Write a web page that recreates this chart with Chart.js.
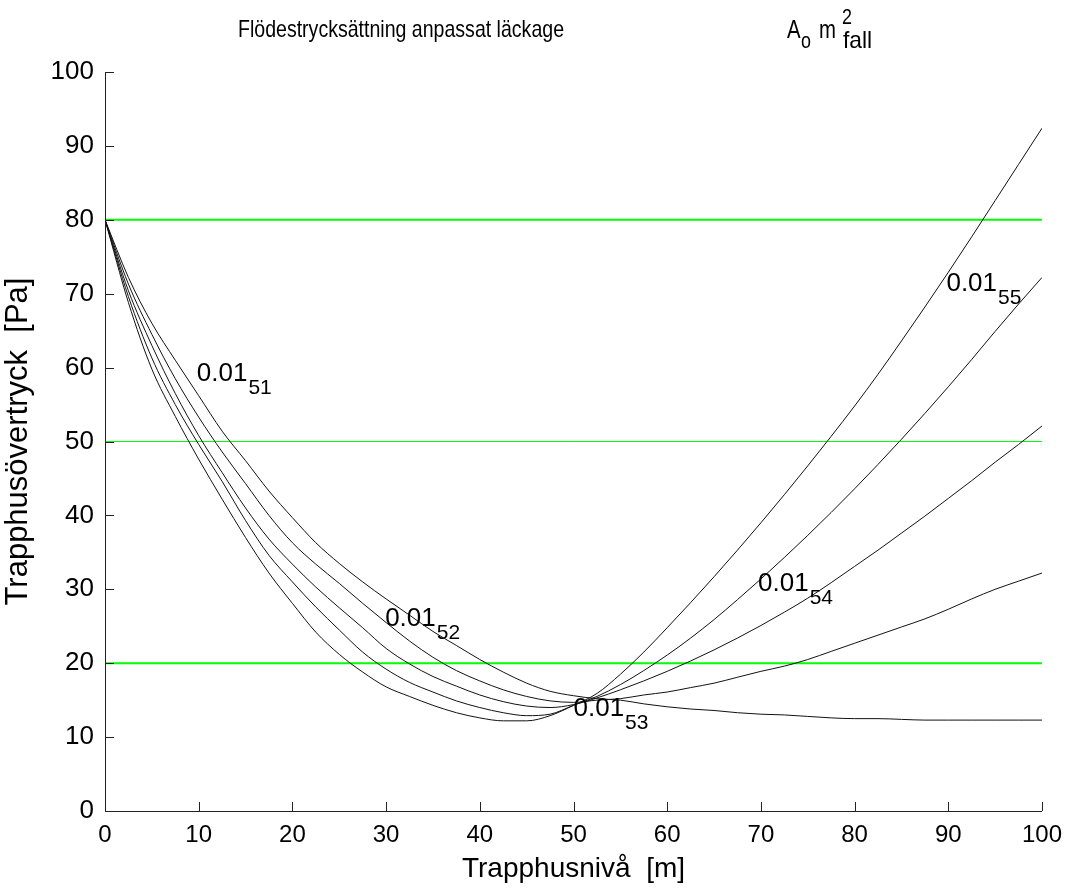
<!DOCTYPE html>
<html>
<head>
<meta charset="utf-8">
<script src="https://cdn.jsdelivr.net/npm/chart.js@4.4.1/dist/chart.umd.min.js"></script>
<style>
  html, body { margin: 0; padding: 0; background: #fff; }
</style>
</head>
<body>
<canvas id="chart" width="1069" height="890"></canvas>
<script>
// trapphusnivå [m]
const levels = [0, 2.5, 5, 7.5, 10, 12.5, 15, 17.5, 20, 22.5, 25, 27.5, 30, 32.5, 35, 37.5, 40, 42.5, 45, 47.5,
  50, 52.5, 55, 57.5, 60, 62.5, 65, 67.5, 70, 72.5, 75, 77.5, 80, 82.5, 85, 87.5, 90, 92.5, 95, 97.5, 100];

// övertryck [Pa] per fall
const fall51 = [80, 72.2, 66.0, 61.0, 56.2, 51.4, 47.4, 43.3, 39.7, 36.3, 33.5, 31.0, 28.7, 26.5, 24.3, 22.4, 20.5, 18.8, 17.3, 16.2,
  15.6, 15.2, 15.0, 14.5, 14.1, 13.8, 13.6, 13.3, 13.1, 13.0, 12.8, 12.6, 12.5, 12.5, 12.4, 12.3, 12.3, 12.3, 12.3, 12.3, 12.3];
const fall52 = [80, 71.3, 64.5, 58.5, 53.3, 48.6, 44.3, 40.0, 36.3, 33.4, 30.8, 28.1, 25.5, 23.0, 20.8, 19.0, 17.6, 16.4, 15.5, 14.9,
  14.7, 15.0, 15.2, 15.7, 16.1, 16.7, 17.3, 18.1, 18.9, 19.6, 20.5, 21.6, 22.7, 23.8, 24.9, 26.0, 27.3, 28.7, 30.0, 31.1, 32.2];
const fall53 = [80, 70.4, 63.0, 56.5, 50.8, 45.8, 41.0, 36.8, 33.4, 30.3, 27.5, 24.8, 22.0, 19.9, 18.2, 16.9, 15.7, 14.8, 14.2, 14.0,
  14.4, 15.3, 16.4, 17.6, 18.9, 20.3, 21.8, 23.4, 25.1, 26.9, 28.8, 30.9, 33.1, 35.3, 37.6, 39.9, 42.3, 44.7, 47.2, 49.6, 52.1];
const fall54 = [80, 69.6, 61.3, 55.0, 49.6, 44.6, 39.3, 34.6, 31.0, 27.6, 24.5, 21.5, 19.2, 17.4, 16.1, 14.9, 14.0, 13.3, 12.9, 13.1,
  14.3, 15.5, 17.1, 19.0, 21.1, 23.4, 25.9, 28.6, 31.4, 34.3, 37.3, 40.4, 43.6, 46.9, 50.3, 53.8, 57.4, 61.1, 64.9, 68.6, 72.2];
const fall55 = [80, 68.8, 59.8, 53.4, 47.6, 42.2, 37.0, 32.2, 28.1, 24.2, 21.2, 18.8, 16.8, 15.5, 14.3, 13.3, 12.6, 12.2, 12.2, 12.9,
  14.3, 15.9, 18.5, 21.5, 24.8, 28.2, 31.7, 35.3, 39.0, 42.8, 46.7, 50.7, 54.8, 59.1, 63.6, 68.2, 72.9, 77.7, 82.6, 87.5, 92.4];

const fallNames = ['51', '52', '53', '54', '55'];
const fallSeries = [fall51, fall52, fall53, fall54, fall55];

// gränsnivåer [Pa]
const limitLevels = [80, 50, 20];

// kurvetiketter: vänsterkant och baslinje i datakoordinater
const labelX = [9.8, 29.9, 50.0, 69.7, 89.8];
const labelY = [58.2, 25.0, 12.9, 29.8, 70.4];

const tickValues = [0, 10, 20, 30, 40, 50, 60, 70, 80, 90, 100];

const FONT = '"Liberation Sans", Arial, Helvetica, sans-serif';
const PLOT = { left: 105, right: 1042, top: 72, bottom: 811 };

const datasets = fallSeries.map((s, i) => ({
  label: '0.01 ' + fallNames[i],
  data: levels.map((x, j) => ({ x: x, y: s[j] })),
  borderColor: '#111',
  borderWidth: 1,
  pointRadius: 0,
  cubicInterpolationMode: 'monotone',
  fill: false
}));

limitLevels.forEach(v => {
  datasets.push({
    label: 'gräns ' + v,
    data: [{ x: 0, y: v }, { x: 100, y: v }],
    borderColor: '#00ff00',
    borderWidth: v === 50 ? 1 : 2,
    pointRadius: 0,
    fill: false
  });
});

const axesPlugin = {
  id: 'matlabAxes',
  afterDatasetsDraw(chart) {
    const { ctx, chartArea: a, scales: { x, y } } = chart;
    ctx.save();
    ctx.strokeStyle = '#222';
    ctx.lineWidth = 1;
    ctx.beginPath();
    ctx.moveTo(a.left + 0.5, a.top);
    ctx.lineTo(a.left + 0.5, a.bottom + 0.5);
    ctx.lineTo(a.right, a.bottom + 0.5);
    ctx.stroke();
    ctx.beginPath();
    tickValues.forEach(v => {
      const py = Math.round(y.getPixelForValue(v)) + 0.5;
      ctx.moveTo(a.left, py);
      ctx.lineTo(a.left + 9, py);
      const px = Math.round(x.getPixelForValue(v)) + 0.5;
      ctx.moveTo(px, a.bottom);
      ctx.lineTo(px, a.bottom - 9);
    });
    ctx.stroke();
    ctx.restore();
  }
};

const curveLabels = {
  id: 'curveLabels',
  afterDatasetsDraw(chart) {
    const { ctx, scales: { x, y } } = chart;
    ctx.save();
    ctx.fillStyle = '#000';
    ctx.textBaseline = 'alphabetic';
    ctx.textAlign = 'left';
    labelX.forEach((lx, i) => {
      const px = x.getPixelForValue(lx);
      const py = y.getPixelForValue(labelY[i]);
      ctx.font = '26px ' + FONT;
      ctx.fillText('0.01', px, py);
      const w = ctx.measureText('0.01').width;
      ctx.font = '21px ' + FONT;
      ctx.fillText(fallNames[i], px + w + 1, py + 13);
    });
    ctx.restore();
  }
};

// the title in the original is set in a condensed face, so squeeze it horizontally
function squeezed(ctx, text, x, y, size, sx) {
  ctx.save();
  ctx.font = size + 'px ' + FONT;
  ctx.translate(x, y);
  ctx.scale(sx, 1);
  ctx.fillText(text, 0, 0);
  ctx.restore();
}

const titlePlugin = {
  id: 'figTitle',
  afterDraw(chart) {
    const ctx = chart.ctx;
    ctx.save();
    ctx.fillStyle = '#000';
    ctx.textBaseline = 'alphabetic';
    ctx.textAlign = 'left';
    const title = 'Flödestrycksättning anpassat läckage';
    ctx.font = '24px ' + FONT;
    const sx = 326 / ctx.measureText(title).width;
    squeezed(ctx, title, 238, 37, 24, sx);
    squeezed(ctx, 'A', 787, 38, 25, sx);
    squeezed(ctx, 'o', 801, 48, 22, sx);
    squeezed(ctx, 'm', 819, 38, 25, sx);
    squeezed(ctx, '2', 842, 24, 22, sx);
    squeezed(ctx, 'fall', 843, 48, 24, 0.95);
    ctx.restore();
  }
};

new Chart(document.getElementById('chart').getContext('2d'), {
  type: 'line',
  data: { datasets: datasets },
  options: {
    responsive: false,
    animation: false,
    devicePixelRatio: 1,
    layout: { padding: { top: PLOT.top, right: 1069 - PLOT.right, left: 0, bottom: 0 } },
    plugins: {
      legend: { display: false },
      tooltip: { enabled: false }
    },
    scales: {
      x: {
        type: 'linear',
        min: 0,
        max: 100,
        afterFit(scale) {
          scale.height = 890 - PLOT.bottom;
          scale.paddingLeft = 0;
          scale.paddingRight = 0;
        },
        afterBuildTicks(scale) { scale.ticks = tickValues.map(v => ({ value: v })); },
        ticks: { color: '#000', font: { family: FONT, size: 24 }, padding: 10, maxRotation: 0 },
        grid: { display: false, drawTicks: false },
        border: { display: false },
        title: { display: true, text: 'Trapphusnivå  [m]', color: '#000', font: { family: FONT, size: 28 }, padding: { top: 0, bottom: 4 } }
      },
      y: {
        type: 'linear',
        min: 0,
        max: 100,
        afterFit(scale) {
          scale.width = PLOT.left;
          scale.paddingTop = 0;
          scale.paddingBottom = 0;
        },
        afterBuildTicks(scale) { scale.ticks = tickValues.map(v => ({ value: v })); },
        ticks: { color: '#000', font: { family: FONT, size: 26 }, padding: 11 },
        grid: { display: false, drawTicks: false },
        border: { display: false },
        title: { display: true, text: 'Trapphusövertryck  [Pa]', color: '#000', font: { family: FONT, size: 31 }, padding: { top: 0, bottom: 2 } }
      }
    }
  },
  plugins: [axesPlugin, curveLabels, titlePlugin]
});
</script>
</body>
</html>
